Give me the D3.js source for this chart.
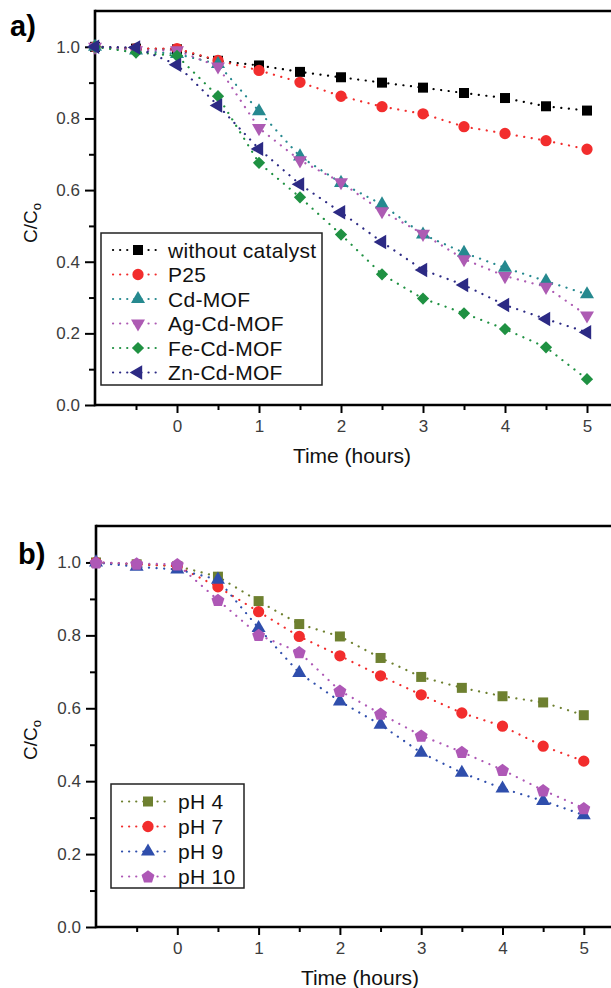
<!DOCTYPE html>
<html>
<head>
<meta charset="utf-8">
<script src="https://cdn.jsdelivr.net/npm/d3@7"></script>
<style>
  html, body { margin: 0; padding: 0; background: #fff; overflow: hidden; }
  svg { display: block; font-family: "Liberation Sans", Arial, sans-serif; }
</style>
</head>
<body>
<svg id="chart" width="611" height="988"></svg>
<script>
// ---------- DATA ----------
const times = [-1, -0.5, 0, 0.5, 1, 1.5, 2, 2.5, 3, 3.5, 4, 4.5, 5];

// Panel a
const seriesNamesA = ["without catalyst", "P25", "Cd-MOF", "Ag-Cd-MOF", "Fe-Cd-MOF", "Zn-Cd-MOF"];
const withoutCatalyst = [1.0, 0.995, 0.993, 0.961, 0.948, 0.930, 0.915, 0.900, 0.886, 0.871, 0.857, 0.834, 0.822];
const p25             = [1.0, 0.995, 0.995, 0.962, 0.934, 0.901, 0.862, 0.833, 0.813, 0.777, 0.758, 0.738, 0.714];
const cdMOF           = [1.0, 0.990, 0.980, 0.952, 0.820, 0.694, 0.620, 0.560, 0.476, 0.425, 0.383, 0.346, 0.309];
const agCdMOF         = [1.0, 0.990, 0.990, 0.945, 0.773, 0.683, 0.622, 0.541, 0.478, 0.407, 0.360, 0.330, 0.250];
const feCdMOF         = [1.0, 0.984, 0.975, 0.862, 0.676, 0.580, 0.476, 0.365, 0.297, 0.256, 0.212, 0.161, 0.072];
const znCdMOF         = [1.0, 0.998, 0.950, 0.836, 0.715, 0.616, 0.538, 0.455, 0.377, 0.335, 0.279, 0.240, 0.203];

// Panel b
const seriesNamesB = ["pH 4", "pH 7", "pH 9", "pH 10"];
const pH4  = [1.0, 0.995, 0.990, 0.961, 0.894, 0.831, 0.797, 0.738, 0.686, 0.656, 0.633, 0.616, 0.581];
const pH7  = [1.0, 0.995, 0.990, 0.933, 0.865, 0.797, 0.744, 0.689, 0.637, 0.587, 0.551, 0.496, 0.455];
const pH9  = [1.0, 0.988, 0.981, 0.953, 0.820, 0.697, 0.619, 0.555, 0.478, 0.423, 0.380, 0.346, 0.307];
const pH10 = [1.0, 0.997, 0.995, 0.897, 0.801, 0.754, 0.648, 0.585, 0.525, 0.480, 0.431, 0.375, 0.326];

const yMajorTicks = [0, 0.2, 0.4, 0.6, 0.8, 1.0];
const yMinorTicks = [0.1, 0.3, 0.5, 0.7, 0.9];
const xMajorTicks = [0, 1, 2, 3, 4, 5];
const xMinorTicks = [-0.5, 0.5, 1.5, 2.5, 3.5, 4.5];

// ---------- STYLES ----------
const colorsA = ["#000000", "#f22d2d", "#26898f", "#ad5bb3", "#1f9142", "#2c2a84"];
const shapesA = ["square", "circle", "triUp", "triDown", "diamond", "triLeft"];
const colorsB = ["#6e8030", "#f22d2d", "#2f4eac", "#ae58b6"];
const shapesB = ["square", "circle", "triUp", "pentagon"];

const svg = d3.select("#chart");

function symbolPath(shape) {
  switch (shape) {
    case "square":  return { d: d3.symbol(d3.symbolSquare, 100)(), rot: 0 };
    case "circle":  return { d: d3.symbol(d3.symbolCircle, 100)(), rot: 0 };
    case "triUp":   return { d: d3.symbol(d3.symbolTriangle, 85)(), rot: 0 };
    case "triDown": return { d: d3.symbol(d3.symbolTriangle, 85)(), rot: 180 };
    case "triLeft": return { d: d3.symbol(d3.symbolTriangle, 90)(), rot: -90 };
    case "diamond": return { d: d3.symbol(d3.symbolSquare, 75)(), rot: 45 };
    case "pentagon": {
      const r = 6.8;
      const pts = d3.range(5).map(i => {
        const a = -Math.PI / 2 + i * 2 * Math.PI / 5;
        return [r * Math.cos(a), r * Math.sin(a) + 0.6];
      });
      return { d: d3.line()(pts) + "Z", rot: 0 };
    }
  }
}

function drawMarker(g, shape, color, cx, cy) {
  const s = symbolPath(shape);
  g.append("path")
    .attr("d", s.d)
    .attr("transform", `translate(${cx},${cy}) rotate(${s.rot})`)
    .attr("fill", color)
    .attr("stroke", "none");
}

function drawPanel(cfg) {
  const x = d3.scaleLinear().domain([-1, 5.5]).range([cfg.left, cfg.left + 6.5 * cfg.pxPerHour]);
  const y = d3.scaleLinear().domain([0, 1.1]).range([cfg.bottom, cfg.top]);
  const g = svg.append("g");

  // axes (ticks + labels)
  const yMajor = d3.axisLeft(y).tickValues(yMajorTicks).tickSize(10).tickPadding(5).tickFormat(d3.format(".1f"));
  const yMinor = d3.axisLeft(y).tickValues(yMinorTicks).tickSize(6).tickFormat("");
  const xMajor = d3.axisBottom(x).tickValues(xMajorTicks).tickSize(8).tickPadding(7).tickFormat(d3.format("d"));
  const xMinor = d3.axisBottom(x).tickValues(xMinorTicks).tickSize(5).tickFormat("");

  [[yMajor, `translate(${cfg.left},0)`], [yMinor, `translate(${cfg.left},0)`],
   [xMajor, `translate(0,${cfg.bottom})`], [xMinor, `translate(0,${cfg.bottom})`]].forEach(([ax, tr]) => {
    const a = g.append("g").attr("transform", tr).call(ax);
    a.select(".domain").remove();
    a.selectAll(".tick line").attr("stroke", "#000").attr("stroke-width", 2);
    a.selectAll(".tick text").attr("fill", "#3c3c3c").style("font-size", "17px")
      .style("font-family", "'Liberation Sans', Arial, sans-serif");
  });

  // frame: left, top, bottom (right side lies outside the picture)
  const xl = x(-1), xr = cfg.frameRight, yt0 = y(1.1), yb0 = y(0);
  g.append("line").attr("x1", xl).attr("x2", xr).attr("y1", yt0).attr("y2", yt0)
    .attr("stroke", "#000").attr("stroke-width", 2.6);
  g.append("line").attr("x1", xl).attr("x2", xr).attr("y1", yb0).attr("y2", yb0)
    .attr("stroke", "#000").attr("stroke-width", 2.6);
  g.append("line").attr("x1", xl).attr("x2", xl).attr("y1", yt0 - 1.3).attr("y2", yb0 + 1.3)
    .attr("stroke", "#000").attr("stroke-width", 2.6);

  // series lines
  const line = d3.line().x((d, i) => x(times[i])).y(d => y(d));
  cfg.series.forEach((vals, k) => {
    g.append("path").datum(vals)
      .attr("d", line)
      .attr("fill", "none")
      .attr("stroke", cfg.colors[k])
      .attr("stroke-width", 2.2)
      .attr("stroke-linecap", "round")
      .attr("stroke-dasharray", "0.1,7.5");
  });
  // markers
  cfg.series.forEach((vals, k) => {
    vals.forEach((v, i) => drawMarker(g, cfg.shapes[k], cfg.colors[k], x(times[i]), y(v)));
  });

  // legend
  const L = cfg.legend;
  g.append("rect").attr("x", L.x0).attr("y", L.y0).attr("width", L.x1 - L.x0).attr("height", L.y1 - L.y0)
    .attr("fill", "#fff").attr("stroke", "#222").attr("stroke-width", 1.5);
  cfg.names.forEach((name, k) => {
    const ry = L.rowY + k * L.rowStep;
    g.append("line").attr("x1", L.lineX0).attr("x2", L.lineX1).attr("y1", ry).attr("y2", ry)
      .attr("stroke", cfg.colors[k]).attr("stroke-width", 2.2).attr("stroke-linecap", "round")
      .attr("stroke-dasharray", "0.1,7");
    drawMarker(g, cfg.shapes[k], cfg.colors[k], L.symX, ry);
    g.append("text").attr("x", L.textX).attr("y", ry).attr("dy", "0.36em")
      .style("font-size", L.font + "px").style("letter-spacing", "0.3px").attr("fill", "#111").text(name);
  });

  // axis titles
  g.append("text").attr("x", cfg.xTitleX).attr("y", cfg.bottom + 58)
    .attr("text-anchor", "middle").style("font-size", "21px").attr("fill", "#111").text("Time (hours)");
  const yt = g.append("text")
    .attr("transform", `translate(37,${cfg.yTitleY}) rotate(-90)`)
    .attr("text-anchor", "middle").style("font-size", "19px").attr("fill", "#111");
  yt.append("tspan").text("C/C");
  yt.append("tspan").attr("dy", "0.3em").style("font-size", "13px").text("o");

  // panel label
  g.append("text").attr("x", cfg.labelX).attr("y", cfg.labelY)
    .style("font-size", "29px").style("font-weight", "bold").attr("fill", "#000").text(cfg.label);
}

drawPanel({
  left: 95, pxPerHour: 82, top: 11, bottom: 405, frameRight: 611,
  series: [withoutCatalyst, p25, cdMOF, agCdMOF, feCdMOF, znCdMOF],
  names: seriesNamesA, colors: colorsA, shapes: shapesA,
  legend: { x0: 101, x1: 322, y0: 233, y1: 385, rowY: 250, rowStep: 24.5,
            lineX0: 113, lineX1: 160, symX: 138, textX: 168, font: 21 },
  xTitleX: 352, yTitleY: 223, label: "a)", labelX: 10, labelY: 36
});

drawPanel({
  left: 96, pxPerHour: 81.3, top: 526, bottom: 927, frameRight: 611,
  series: [pH4, pH7, pH9, pH10],
  names: seriesNamesB, colors: colorsB, shapes: shapesB,
  legend: { x0: 111, x1: 244, y0: 784, y1: 888, rowY: 801.5, rowStep: 25,
            lineX0: 122, lineX1: 171, symX: 148, textX: 178, font: 21 },
  xTitleX: 360, yTitleY: 740, label: "b)", labelX: 18, labelY: 564
});
</script>
</body>
</html>
